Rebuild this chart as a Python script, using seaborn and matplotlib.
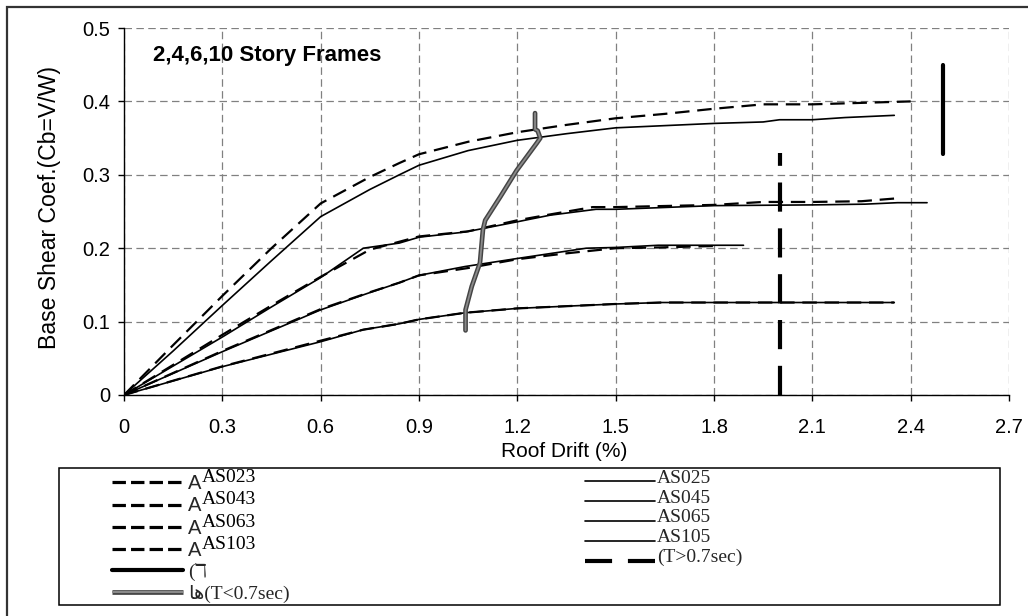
import numpy as np
import matplotlib
matplotlib.use("Agg")
import matplotlib.pyplot as plt
import seaborn as sns
from matplotlib.lines import Line2D
from matplotlib.patches import Rectangle
import matplotlib.patheffects as pe

# ---------------- data ----------------
x_as023 = [0, 0.15, 0.3, 0.45, 0.6, 0.75, 0.84, 0.9, 1.05, 1.2, 1.35, 1.5, 1.65, 1.8, 1.95, 2.1, 2.25, 2.4]
y_as023 = [0, 0.068, 0.135, 0.2, 0.261, 0.297, 0.316, 0.328, 0.345, 0.358, 0.368, 0.377, 0.383, 0.39, 0.396, 0.396, 0.398, 0.4]
x_as025 = [0, 0.15, 0.3, 0.45, 0.53, 0.6, 0.75, 0.84, 0.9, 1.05, 1.2, 1.35, 1.5, 1.65, 1.8, 1.95, 2.0, 2.1, 2.2, 2.35]
y_as025 = [0, 0.06, 0.122, 0.183, 0.215, 0.243, 0.28, 0.3, 0.313, 0.333, 0.347, 0.356, 0.364, 0.367, 0.37, 0.372, 0.375, 0.375, 0.378, 0.381]

x_as043 = [0, 0.3, 0.45, 0.6, 0.75, 0.85, 0.9, 1.05, 1.2, 1.3, 1.43, 1.5, 1.8, 1.95, 2.1, 2.25, 2.36]
y_as043 = [0, 0.082, 0.122, 0.161, 0.198, 0.21, 0.216, 0.223, 0.238, 0.246, 0.256, 0.256, 0.259, 0.263, 0.263, 0.264, 0.268]
x_as045 = [0, 0.3, 0.45, 0.6, 0.73, 0.84, 0.9, 1.04, 1.2, 1.3, 1.44, 1.5, 1.8, 2.1, 2.26, 2.36, 2.45]
y_as045 = [0, 0.079, 0.12, 0.16, 0.2, 0.207, 0.215, 0.222, 0.236, 0.245, 0.253, 0.253, 0.258, 0.259, 0.26, 0.262, 0.262]

x_as063 = [0, 0.3, 0.6, 0.75, 0.84, 0.9, 1.05, 1.2, 1.35, 1.5, 1.63, 1.8]
y_as063 = [0, 0.06, 0.117, 0.14, 0.153, 0.163, 0.173, 0.185, 0.193, 0.2, 0.201, 0.203]
x_as065 = [0, 0.3, 0.6, 0.74, 0.84, 0.9, 1.04, 1.2, 1.41, 1.5, 1.63, 1.89]
y_as065 = [0, 0.059, 0.116, 0.138, 0.153, 0.163, 0.175, 0.186, 0.2, 0.201, 0.204, 0.204]

x_as103 = [0, 0.3, 0.6, 0.73, 0.84, 0.9, 1.04, 1.2, 1.35, 1.5, 1.64, 1.8, 2.1, 2.35]
y_as103 = [0, 0.039, 0.074, 0.089, 0.097, 0.103, 0.112, 0.118, 0.121, 0.124, 0.126, 0.126, 0.126, 0.126]
x_as105 = [0, 0.3, 0.6, 0.73, 0.84, 0.9, 1.04, 1.2, 1.35, 1.5, 1.64, 1.8, 2.1, 2.35]
y_as105 = [0, 0.0386, 0.0726, 0.089, 0.097, 0.103, 0.112, 0.118, 0.121, 0.124, 0.126, 0.126, 0.126, 0.126]

# T<0.7sec limit line (grey)
x_short = [1.042, 1.042, 1.061, 1.086, 1.095, 1.102, 1.148, 1.198, 1.259, 1.27, 1.262, 1.254, 1.254]
y_short = [0.088, 0.116, 0.148, 0.18, 0.225, 0.238, 0.27, 0.306, 0.343, 0.35, 0.36, 0.362, 0.384]
# T>0.7sec limit line (thick dashed)
x_long = [2.0, 2.0]
y_long = [0.0, 0.33]
# solid marker line
x_mark = [2.5, 2.5]
y_mark = [0.329, 0.45]

dashed_names = ["AS023", "AS043", "AS063", "AS103"]
solid_names = ["AS025", "AS045", "AS065", "AS105"]
extra_left = ["(\u2138", "\uFE8E\uFEEB(T<0.7sec)"]
extra_right = ["(T>0.7sec)"]

x_ticks = [0, 0.3, 0.6, 0.9, 1.2, 1.5, 1.8, 2.1, 2.4, 2.7]
x_tick_labels = ["0", "0.3", "0.6", "0.9", "1.2", "1.5", "1.8", "2.1", "2.4", "2.7"]
y_ticks = [0, 0.1, 0.2, 0.3, 0.4, 0.5]
y_tick_labels = ["0", "0.1", "0.2", "0.3", "0.4", "0.5"]

title_text = "2,4,6,10 Story Frames"
x_label = "Roof Drift (%)"
y_label = "Base Shear Coef.(Cb=V/W)"

# ---------------- style ----------------
sns.set_style("ticks")
plt.rcParams['font.family'] = ['Liberation Sans', 'DejaVu Sans']

W, H = 1028, 616
fig = plt.figure(figsize=(W / 100, H / 100), dpi=100)
ax = fig.add_axes([124 / W, 1 - 395 / H, (1009 - 124) / W, (395 - 28) / H])

DASH_CURVE = (6.5, 3.5)
dashed_series = [(x_as023, y_as023), (x_as043, y_as043), (x_as063, y_as063), (x_as103, y_as103)]
solid_series = [(x_as025, y_as025), (x_as045, y_as045), (x_as065, y_as065), (x_as105, y_as105)]

for xs, ys in solid_series:
    sns.lineplot(x=xs, y=ys, ax=ax, color="black", lw=1.2, sort=False, estimator=None, legend=False)
for xs, ys in dashed_series:
    sns.lineplot(x=xs, y=ys, ax=ax, color="black", lw=1.6, sort=False, estimator=None, legend=False)
    ax.lines[-1].set_dashes(DASH_CURVE)

# grey limit line
sns.lineplot(x=x_short, y=y_short, ax=ax, color="#8a8a8a", lw=1.3, sort=False, estimator=None, legend=False)
grey_fx = [pe.Stroke(linewidth=3.4, foreground="#444444"), pe.Normal()]
ax.lines[-1].set_path_effects(grey_fx)

# thick dashed vertical
sns.lineplot(x=x_long, y=y_long, ax=ax, color="black", lw=3.0, sort=False, estimator=None, legend=False)
ax.lines[-1].set_dashes((7, 4))
ax.lines[-1].set_solid_capstyle("butt")
ax.lines[-1].set_dash_capstyle("butt")
# thick solid vertical
sns.lineplot(x=x_mark, y=y_mark, ax=ax, color="black", lw=3.0, sort=False, estimator=None, legend=False)
ax.lines[-1].set_solid_capstyle("round")

ax.set_xlim(0, 2.7)
ax.set_ylim(0, 0.5)
ax.set_xticks(x_ticks)
ax.set_xticklabels(x_tick_labels)
ax.set_yticks(y_ticks)
ax.set_yticklabels(y_tick_labels)
ax.grid(True, color="#808080", lw=0.9, linestyle=(0, (6, 3.5)))
ax.set_axisbelow(True)
for s in ["top", "right"]:
    ax.spines[s].set_visible(False)
for s in ["left", "bottom"]:
    ax.spines[s].set_color("black")
    ax.spines[s].set_linewidth(1.0)
ax.tick_params(axis="x", direction="out", length=4.3, width=1, pad=12.5, labelsize=14.5, colors="black")
ax.tick_params(axis="y", direction="out", length=4.3, width=1, pad=5.5, labelsize=14.5, colors="black")

ax.set_xlabel(x_label, fontsize=15, color="black")
ax.set_ylabel(y_label, fontsize=16.6, color="black")
ax.xaxis.set_label_coords(0.497, (395 - 442) / 367)
ax.yaxis.set_label_coords((61 - 124) / 885, 0.51)

ax.text(0.0885, 0.463, title_text, fontsize=16, fontweight="bold", va="center", ha="left", color="black")

# outer frame and legend box
fig.add_artist(Rectangle((7 / W, -0.1), 1.2, (1 - 7 / H) + 0.1, transform=fig.transFigure,
                         fill=False, edgecolor="#333333", lw=1.6))
fig.add_artist(Rectangle((59 / W, 1 - 605 / H), (1000 - 59) / W, (605 - 468) / H, transform=fig.transFigure,
                         fill=False, edgecolor="black", lw=1.1))

# legends
FS = 14
h_dash = Line2D([], [], color="black", lw=2.3, dashes=(4.2, 1.6))
h_thick = Line2D([], [], color="black", lw=3.0)
h_grey = Line2D([], [], color="#8a8a8a", lw=1.5, path_effects=grey_fx, solid_capstyle="butt")
h_solid = Line2D([], [], color="black", lw=1.2)
h_long = Line2D([], [], color="black", lw=3.0, dashes=(6.5, 3.8))

left_handles = [h_dash] * 4 + [h_thick, h_grey]
left_labels = ["A"] * 4 + extra_left
leg1 = fig.legend(left_handles, left_labels, loc="upper left", bbox_to_anchor=(112 / W, 1 - 474 / H),
                  frameon=False, fontsize=FS, handlelength=3.65, handletextpad=0.26,
                  labelspacing=0.17, borderpad=0, borderaxespad=0)
for i, t in enumerate(leg1.get_texts()):
    if i < 4:
        t.set_fontfamily(["Liberation Sans", "DejaVu Sans"])
        t.set_fontsize(14.5)
    else:
        t.set_fontfamily(["Liberation Serif", "DejaVu Sans"])

right_handles = [h_solid] * 4 + [h_long]
right_labels = solid_names + extra_right
leg2 = fig.legend(right_handles, right_labels, loc="upper left", bbox_to_anchor=(585 / W, 1 - 474 / H),
                  frameon=False, fontsize=FS, handlelength=3.6, handletextpad=0.1,
                  labelspacing=0.12, borderpad=0, borderaxespad=0)
for t in leg2.get_texts():
    t.set_fontfamily(["Liberation Serif", "DejaVu Sans"])
    t.set_position((0, 5))

# superscript series names next to the "A" labels
fig.canvas.draw()
renderer = fig.canvas.get_renderer()
for i, name in enumerate(dashed_names):
    bb = leg1.get_texts()[i].get_window_extent(renderer)
    fig.text(bb.x1 / W, (bb.y0 + 7) / H, name, ha="left", va="bottom", fontsize=FS,
             family=["Liberation Serif", "DejaVu Sans"], color="black")

fig.savefig("out.png", dpi=100)
